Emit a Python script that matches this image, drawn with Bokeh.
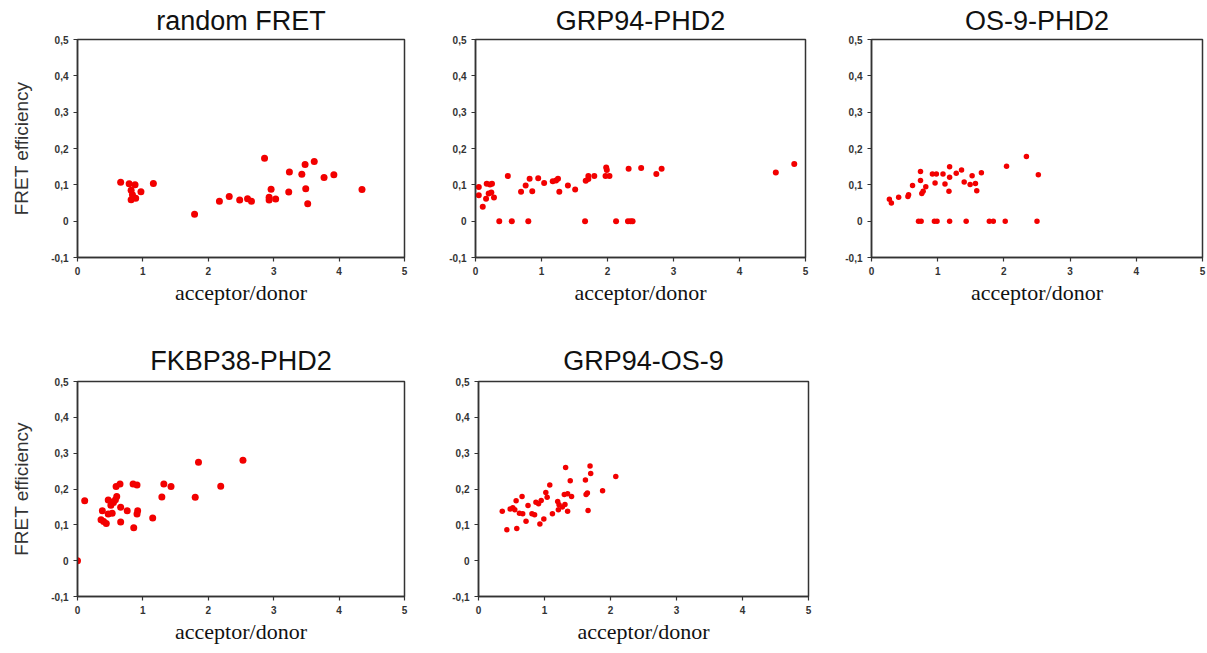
from bokeh.plotting import figure
from bokeh.layouts import column, row
from bokeh.models import Range1d, FixedTicker, CustomJSTickFormatter
from bokeh.embed import file_html
from bokeh.resources import INLINE

# ---------------- data ----------------
titles = ["random FRET", "GRP94-PHD2", "OS-9-PHD2", "FKBP38-PHD2", "GRP94-OS-9"]
x_ticks = [0, 1, 2, 3, 4, 5]
y_ticks = [-0.1, 0, 0.1, 0.2, 0.3, 0.4, 0.5]
x_label = "acceptor/donor"
y_label = "FRET efficiency"

random_x = [0.66, 0.79, 0.82, 0.84, 0.82, 0.88, 0.89, 0.97, 1.16, 1.79, 2.17, 2.32, 2.48, 2.60,
            2.66, 2.86, 2.96, 2.93, 2.93, 3.03, 3.24, 3.23, 3.43, 3.48, 3.49, 3.52, 3.62, 3.77,
            3.92, 4.35]
random_y = [0.107, 0.103, 0.085, 0.073, 0.059, 0.100, 0.063, 0.081, 0.104, 0.019, 0.055, 0.068,
            0.058, 0.062, 0.055, 0.173, 0.088, 0.066, 0.058, 0.061, 0.135, 0.080, 0.129, 0.156,
            0.089, 0.048, 0.164, 0.120, 0.128, 0.087]

grp_phd_x = [0.05, 0.05, 0.11, 0.16, 0.17, 0.20, 0.22, 0.24, 0.25, 0.28, 0.36, 0.49, 0.55, 0.69,
             0.76, 0.80, 0.82, 0.86, 0.95, 1.04, 1.17, 1.22, 1.25, 1.27, 1.40, 1.51, 1.66, 1.67,
             1.71, 1.71, 1.80, 1.98, 1.99, 1.97, 2.03, 2.13, 2.32, 2.31, 2.35, 2.38, 2.51, 2.74,
             2.82, 4.55, 4.83]
grp_phd_y = [0.094, 0.071, 0.040, 0.062, 0.103, 0.076, 0.101, 0.079, 0.103, 0.065, 0.0, 0.124,
             0.0, 0.081, 0.098, 0.0, 0.117, 0.082, 0.118, 0.105, 0.110, 0.112, 0.117, 0.081,
             0.098, 0.087, 0.0, 0.111, 0.124, 0.116, 0.124, 0.148, 0.141, 0.124, 0.124, 0.0,
             0.144, 0.0, 0.0, 0.0, 0.146, 0.130, 0.144, 0.134, 0.157]

os9_phd_x = [0.27, 0.30, 0.41, 0.55, 0.56, 0.62, 0.74, 0.74, 0.76, 0.78, 0.82, 0.92, 0.96, 0.98,
             1.08, 1.11, 1.18, 1.18, 1.17, 1.28, 1.36, 1.40, 1.49, 1.52, 1.57, 1.59, 1.66, 2.04,
             2.34, 2.52, 0.71, 0.75, 0.95, 0.99, 1.18, 1.43, 1.78, 1.84, 2.02, 2.50]
os9_phd_y = [0.060, 0.050, 0.066, 0.068, 0.073, 0.098, 0.112, 0.137, 0.076, 0.082, 0.095, 0.130,
             0.105, 0.130, 0.130, 0.102, 0.150, 0.121, 0.082, 0.132, 0.141, 0.108, 0.101, 0.125,
             0.104, 0.084, 0.133, 0.151, 0.178, 0.128, 0.0, 0.0, 0.0, 0.0, 0.0, 0.0, 0.0, 0.0,
             0.0, 0.0]

fkbp_phd_x = [0.0, 0.11, 0.38, 0.36, 0.40, 0.44, 0.47, 0.47, 0.51, 0.53, 0.52, 0.55, 0.58, 0.60,
              0.59, 0.65, 0.66, 0.66, 0.76, 0.85, 0.86, 0.91, 0.91, 0.92, 1.15, 1.29, 1.32, 1.43,
              1.80, 1.85, 2.19, 2.53]
fkbp_phd_y = [0.0, 0.167, 0.139, 0.114, 0.109, 0.104, 0.130, 0.169, 0.155, 0.132, 0.163, 0.162,
              0.170, 0.179, 0.207, 0.214, 0.149, 0.108, 0.139, 0.214, 0.092, 0.211, 0.130, 0.139,
              0.119, 0.178, 0.214, 0.207, 0.177, 0.275, 0.208, 0.280]

grp_os9_x = [0.36, 0.43, 0.48, 0.52, 0.55, 0.57, 0.58, 0.62, 0.66, 0.67, 0.72, 0.75, 0.81, 0.85,
             0.87, 0.91, 0.93, 0.95, 0.99, 1.02, 1.04, 1.08, 1.12, 1.20, 1.22, 1.21, 1.27, 1.30,
             1.32, 1.31, 1.35, 1.35, 1.39, 1.41, 1.62, 1.63, 1.66, 1.69, 1.70, 1.88, 2.08, 1.65]
grp_os9_y = [0.138, 0.086, 0.144, 0.148, 0.142, 0.167, 0.090, 0.132, 0.179, 0.131, 0.110, 0.154,
             0.131, 0.128, 0.163, 0.159, 0.102, 0.168, 0.116, 0.190, 0.177, 0.211, 0.131, 0.165,
             0.156, 0.142, 0.150, 0.185, 0.260, 0.157, 0.138, 0.187, 0.223, 0.179, 0.225, 0.185,
             0.140, 0.264, 0.243, 0.195, 0.235, 0.189]

series_x = [random_x, grp_phd_x, os9_phd_x, fkbp_phd_x, grp_os9_x]
series_y = [random_y, grp_phd_y, os9_phd_y, fkbp_phd_y, grp_os9_y]

# ---------------- styling / layout ----------------
AX = "#333333"
RED = "#f20000"

# (width, height, border_left, border_right, border_top, border_bottom, marker size, show y label, title standoff)
geom = [
    (420, 318, 77, 16, 39, 61, 7, True, 7),
    (398, 318, 55, 13, 39, 61, 6, False, 7),
    (388, 318, 53, 4, 39, 61, 5.5, False, 7),
    (420, 334, 77, 16, 63, 56, 7, True, 11),
    (398, 334, 58, 10, 63, 56, 5.5, False, 11),
]

ytick_fmt = CustomJSTickFormatter(code="""
    if (Math.abs(tick) < 1e-9) { return '0'; }
    return tick.toFixed(1).replace('.', ',');
""")


def make_panel(i):
    w, h, bl, br, bt, bb, msize, ylab, tso = geom[i]
    p = figure(width=w, height=h, output_backend="svg", toolbar_location=None,
               x_range=Range1d(0, 5), y_range=Range1d(-0.1, 0.5),
               min_border_left=bl, min_border_right=br, min_border_top=bt,
               min_border_bottom=bb, title=titles[i])
    p.background_fill_color = "white"
    p.border_fill_color = "white"
    p.outline_line_color = AX
    p.outline_line_width = 1.5
    p.grid.visible = False

    p.title.align = "center"
    p.title.text_font = "Liberation Sans"
    p.title.text_font_style = "normal"
    p.title.text_font_size = "27px"
    p.title.text_color = "#111111"
    p.title.standoff = tso

    p.xaxis.ticker = FixedTicker(ticks=x_ticks)
    p.yaxis.ticker = FixedTicker(ticks=y_ticks)
    p.yaxis.formatter = ytick_fmt

    for ax in (p.xaxis, p.yaxis):
        ax.axis_line_color = AX
        ax.axis_line_width = 1.5
        ax.major_tick_line_color = AX
        ax.major_tick_line_width = 1.2
        ax.major_tick_in = 0
        ax.major_tick_out = 4
        ax.minor_tick_line_color = None
        ax.major_label_text_font = "Liberation Sans"
        ax.major_label_text_font_style = "bold"
        ax.major_label_text_font_size = "10px"
        ax.major_label_text_color = "#333333"
        ax.major_label_standoff = 5

    p.xaxis.axis_label = x_label
    p.xaxis.axis_label_text_font = "Liberation Serif"
    p.xaxis.axis_label_text_font_style = "normal"
    p.xaxis.axis_label_text_font_size = "22px"
    p.xaxis.axis_label_text_color = "#111111"
    p.xaxis.axis_label_standoff = 2

    if ylab:
        p.yaxis.axis_label = y_label
        p.yaxis.axis_label_text_font = "Liberation Sans"
        p.yaxis.axis_label_text_font_style = "normal"
        p.yaxis.axis_label_text_font_size = "19px"
        p.yaxis.axis_label_text_color = "#333333"
        p.yaxis.axis_label_standoff = 16

    p.scatter(series_x[i], series_y[i], size=msize, marker="circle",
              fill_color=RED, line_color=None)
    return p


panels = [make_panel(i) for i in range(5)]
layout = column(row(panels[0], panels[1], panels[2]), row(panels[3], panels[4]))

open("out.html", "w").write(file_html(layout, INLINE))
